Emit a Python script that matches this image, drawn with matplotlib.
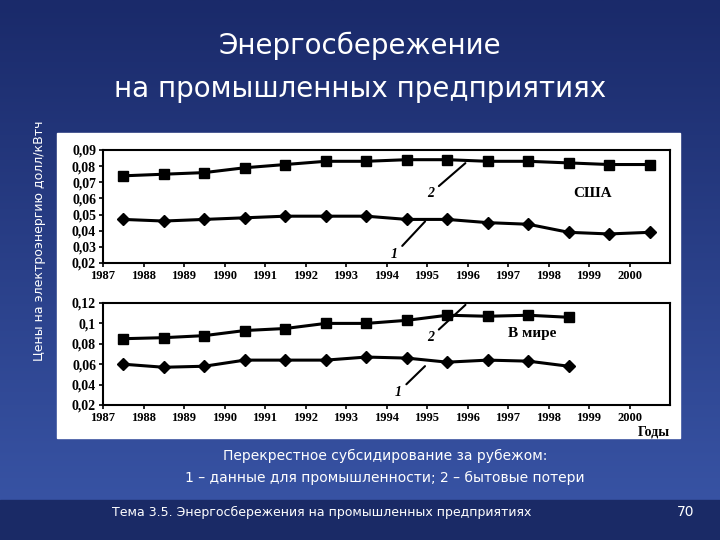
import matplotlib
matplotlib.use("Agg")
import matplotlib.pyplot as plt
import numpy as np

years_usa = np.arange(1987.5, 2001.0, 1.0)
usa_2 = [0.074, 0.075, 0.076, 0.079, 0.081, 0.083, 0.083, 0.084, 0.084, 0.083, 0.083, 0.082, 0.081, 0.081]
usa_1 = [0.047, 0.046, 0.047, 0.048, 0.049, 0.049, 0.049, 0.047, 0.047, 0.045, 0.044, 0.039, 0.038, 0.039]

years_world = np.arange(1987.5, 1999.0, 1.0)
world_2 = [0.085, 0.086, 0.088, 0.093, 0.095, 0.100, 0.100, 0.103, 0.108, 0.107, 0.108, 0.106]
world_1 = [0.060, 0.057, 0.058, 0.064, 0.064, 0.064, 0.067, 0.066, 0.062, 0.064, 0.063, 0.058]

tick_years = list(range(1987, 2001))

fig = plt.figure(figsize=(7.2, 5.4), dpi=100)
bg = fig.add_axes([0, 0, 1, 1])
grad = np.linspace(0, 1, 256).reshape(-1, 1)
bg.imshow(grad, aspect="auto", cmap=matplotlib.colors.LinearSegmentedColormap.from_list(
    "g", ["#1a2a6a", "#3a56a8"]), extent=[0, 1, 0, 1])
bg.add_patch(plt.Rectangle((0, 0), 1, 0.075, color="#1a2a66"))
bg.add_patch(plt.Rectangle((57 / 720, 1 - 438 / 540), 623 / 720, 305 / 540, color="white"))
bg.set_xlim(0, 1)
bg.set_ylim(0, 1)
bg.axis("off")

fig.text(0.5, 0.915, "Энергосбережение", color="white", fontsize=20, ha="center", va="center")
fig.text(0.5, 0.835, "на промышленных предприятиях", color="white", fontsize=20, ha="center", va="center")
fig.text(0.055, 0.555, "Цены на электроэнергию долл/кВтч", color="white", fontsize=9,
         rotation=90, ha="center", va="center")
fig.text(0.535, 0.148, "Перекрестное субсидирование за рубежом:", color="white", fontsize=10, ha="center")
fig.text(0.535, 0.108, "1 – данные для промышленности; 2 – бытовые потери", color="white", fontsize=10, ha="center")
fig.text(0.155, 0.045, "Тема 3.5. Энергосбережения на промышленных предприятиях", color="white", fontsize=9)
fig.text(0.965, 0.045, "70", color="white", fontsize=10, ha="right")

serif = {"family": "Liberation Serif", "weight": "bold"}


def panel(rect, x, s2, s1, yticks, ylabels, ylim, label, label_xy, ann2, ann1):
    ax = fig.add_axes(rect)
    ax.plot(x, s2, color="black", lw=2.2, marker="s", ms=7)
    ax.plot(x, s1, color="black", lw=2.2, marker="D", ms=6)
    ax.set_xlim(1987, 2001)
    ax.set_ylim(*ylim)
    ax.set_xticks(tick_years)
    ax.set_xticklabels([str(y) for y in tick_years], fontdict=serif, fontsize=9)
    ax.set_yticks(yticks)
    ax.set_yticklabels(ylabels, fontdict=serif, fontsize=10)
    ax.tick_params(length=3, width=1.2, pad=2)
    for sp in ax.spines.values():
        sp.set_linewidth(1.5)
    ax.text(*label_xy, label, fontdict=serif, fontsize=11)
    for (tx, ty, px, py, t) in (ann2, ann1):
        ax.annotate(t, xy=(px, py), xytext=(tx, ty), fontsize=10, style="italic",
                    fontfamily="Liberation Serif", fontweight="bold",
                    arrowprops=dict(arrowstyle="-", lw=1.5, color="black"))
    return ax


panel([103 / 720, 1 - 263 / 540, 567 / 720, 113 / 540], years_usa, usa_2, usa_1,
      np.arange(0.02, 0.091, 0.01), ["0,02", "0,03", "0,04", "0,05", "0,06", "0,07", "0,08", "0,09"],
      (0.02, 0.09), "США", (1998.6, 0.061),
      (1995.0, 0.061, 1996.0, 0.083, "2"), (1994.1, 0.023, 1995.0, 0.047, "1"))
ax2 = panel([103 / 720, 1 - 405 / 540, 567 / 720, 102 / 540], years_world, world_2, world_1,
            [0.02, 0.04, 0.06, 0.08, 0.1, 0.12], ["0,02", "0,04", "0,06", "0,08", "0,1", "0,12"],
            (0.02, 0.12), "В мире", (1997.0, 0.087),
            (1995.0, 0.083, 1996.0, 0.12, "2"), (1994.2, 0.029, 1995.0, 0.06, "1"))
ax2.text(2001, 0.0, "Годы", fontdict=serif, fontsize=10, ha="right", va="top")

fig.savefig("out.png", dpi=100)
